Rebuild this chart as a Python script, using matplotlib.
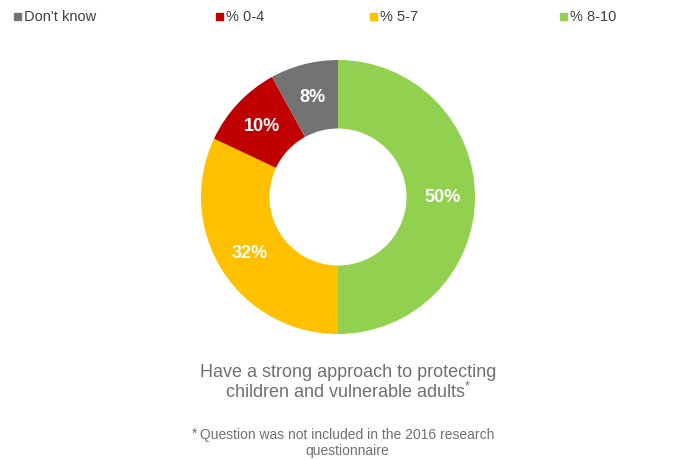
import matplotlib.pyplot as plt

# DATA

categories = ["% 8-10", "% 5-7", "% 0-4", "Don't know"]
shares = [50, 32, 10, 8]
colors = ["#92D050", "#FFC000", "#C00000", "#737373"]
legend_order = ["Don't know", "% 0-4", "% 5-7", "% 8-10"]

title = "Have a strong approach to protecting\nchildren and vulnerable adults$^{*}$"
footnote = "Question was not included in the 2016 research\nquestionnaire"

plt.rcParams['font.family'] = ['Liberation Sans', 'DejaVu Sans']
plt.rcParams['mathtext.default'] = 'regular'

fig = plt.figure(figsize=(6.82, 4.6), dpi=100)
ax = fig.add_axes([338/682 - 137/682, 1 - (198+137)/460, 274/682, 274/460])

wedges, texts, autotexts = ax.pie(
    shares,
    colors=colors,
    startangle=90,
    counterclock=False,
    autopct=lambda p: f"{p:.0f}%",
    pctdistance=0.76,
    wedgeprops=dict(width=0.5, edgecolor="none"),
    radius=1.0,
)
ax.set_xlim(-1, 1)
ax.set_ylim(-1, 1)
ax.set_aspect("equal")

for t in autotexts:
    t.set_color("white")
    t.set_fontsize(13)
    t.set_fontweight("bold")

# LEGEND

xpos = [14, 216, 370, 560]
for x, name in zip(xpos, legend_order):
    i = categories.index(name)
    fig.patches.append(plt.Rectangle(
        (x/682, 1 - 21/460), 7/682, 7/460,
        transform=fig.transFigure, color=colors[i]))
    fig.text((x + 10)/682, 1 - 17/460, name, fontsize=10.5,
             color="#404040", va="center", ha="left")

# CAPTION

fig.text(348/682, 1 - 383/460, title, ha="center", va="center",
         fontsize=13, color="#707070", linespacing=1.1)
fig.text(347/682, 1 - 443/460, footnote, ha="center", va="center",
         fontsize=10, color="#707070", linespacing=1.15)
fig.text(192/682, 1 - 434/460, "*", ha="left", va="center",
         fontsize=10, color="#707070")

fig.savefig("out.png", dpi=100)
